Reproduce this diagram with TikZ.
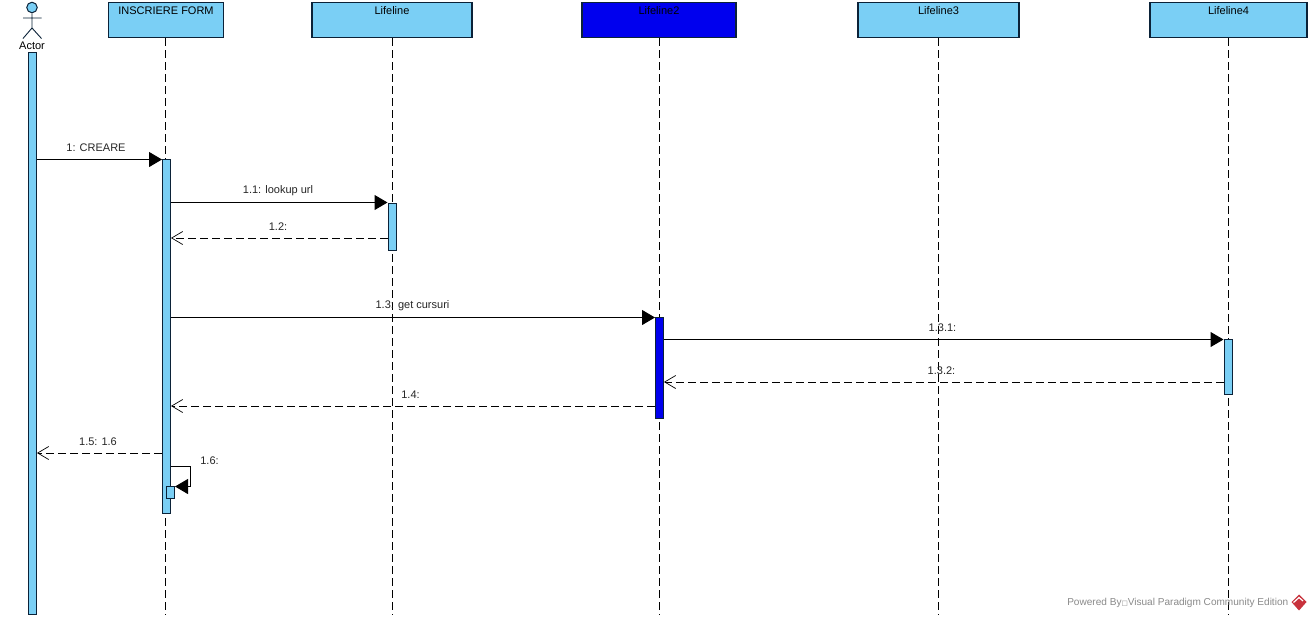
\documentclass[tikz,border=0pt]{standalone}
\usepackage{fontspec}
\setmainfont{Liberation Sans}
\newfontfamily\symfont{DejaVu Sans}
\usetikzlibrary{arrows.meta,calc}
\def\px{0.75pt}
\definecolor{lifefill}{HTML}{7ACFF5}
\definecolor{lifeblue}{HTML}{0000EE}
\definecolor{edge}{HTML}{0B2238}
\definecolor{wmgray}{HTML}{8A8A8A}
\definecolor{logored}{HTML}{C8323C}
\tikzset{
  x=\px,y=-\px,
  every node/.style={font=\fontsize{8.25}{10}\selectfont,inner sep=0pt},
  headbox/.style={draw=edge,line width=1.2*\px,fill=lifefill,inner xsep=0pt,inner ysep=0pt,
    text height=11.5*\px,text depth=23.5*\px},
  bar/.style={draw=edge,line width=1*\px,fill=lifefill,minimum width=8*\px},
  lifedash/.style={draw=black,line width=0.9*\px,dash pattern=on 8*\px off 4*\px},
  syncmsg/.style={draw=black,line width=1*\px,-{Triangle[length=13*\px,width=15*\px,fill=black]}},
  retmsg/.style={draw=black,line width=0.9*\px,dash pattern=on 8*\px off 4*\px,
    -{Straight Barb[length=11*\px,width=13*\px,line width=.7*\px,sep=0pt]}},
  msglabel/.style={text=black!85},
}
\begin{document}
\begin{tikzpicture}
\useasboundingbox (0,0) rectangle (1311,619);
\fill[white] (0,0) rectangle (1311,619);

% lifeline heads
\node[headbox,minimum width=115*\px] (h1) at (166,20) {INSCRIERE FORM};
\node[headbox,minimum width=160*\px] (h2) at (392,20) {Lifeline};
\node[headbox,minimum width=154*\px,fill=lifeblue] (h3) at (659,20) {Lifeline2};
\node[headbox,minimum width=161*\px] (h4) at (938.5,20) {Lifeline3};
\node[headbox,minimum width=157*\px] (h5) at (1228.5,20) {Lifeline4};

% lifeline ends
\coordinate (e1) at (165,615);
\coordinate (e2) at (392,615);
\coordinate (e3) at (659,615);
\coordinate (e4) at (938,615);
\coordinate (e5) at (1228,615);
\draw[lifedash] (h1.south -| e1) -- (e1);
\draw[lifedash] (h2.south -| e2) -- (e2);
\draw[lifedash] (h3.south -| e3) -- (e3);
\draw[lifedash] (h4.south -| e4) -- (e4);
\draw[lifedash] (h5.south -| e5) -- (e5);

% actor
\node[draw=edge,line width=1*\px,fill=lifefill,circle,minimum size=10.5*\px] (head) at (32,7.5) {};
\coordinate (hip) at (32,28);
\coordinate (armL) at (23,18);
\coordinate (armR) at (41.5,18);
\coordinate (legL) at (23,38.5);
\coordinate (legR) at (41.5,38.5);
\draw[edge,line width=.9*\px] (head.south) -- (hip) (armL) -- (armR) (legL) -- (hip) -- (legR);
\node (actor) at (32,46) {Actor};

% activation bars
\node[bar,minimum height=562*\px] (a0) at (32.5,333.5) {};
\node[bar,minimum height=354*\px] (a1) at (166.5,336.5) {};
\node[bar,minimum height=47*\px] (a2) at (392,226.5) {};
\node[bar,minimum height=101*\px,fill=lifeblue] (a3) at (659.5,367.5) {};
\node[bar,minimum height=55*\px] (a4) at (1228,367) {};
\node[bar,minimum height=12*\px] (a5) at (170.5,492) {};

% message levels
\coordinate (m1) at (0,159.5);
\coordinate (m2) at (0,202.5);
\coordinate (m3) at (0,238);
\coordinate (m4) at (0,317.5);
\coordinate (m5) at (0,339.5);
\coordinate (m6) at (0,382);
\coordinate (m7) at (0,406);
\coordinate (m8) at (0,453);

\draw[syncmsg] (a0.east |- m1) -- (a1.west |- m1);
\draw[syncmsg] (a1.east |- m2) -- (a2.west |- m2);
\draw[retmsg]  (a2.west |- m3) -- (a1.east |- m3);
\draw[syncmsg] (a1.east |- m4) -- (a3.west |- m4);
\draw[syncmsg] (a3.east |- m5) -- (a4.west |- m5);
\draw[retmsg]  (a4.west |- m6) -- (a3.east |- m6);
\draw[retmsg]  (a3.west |- m7) -- (a1.east |- m7);
\draw[retmsg]  (a1.west |- m8) -- (a0.east |- m8);

% self message
\coordinate (s1) at (190,466.5);
\coordinate (s2) at (190,486.5);
\draw[syncmsg] (a1.east |- s1) -- (s1) -- (s2) -- (a5.east |- s2);

% labels
\node[msglabel] (l1) at (96,148) {1: CREARE};
\node[msglabel] (l2) at (278,191) {1.1: lookup url};
\node[msglabel] (l3) at (278,227) {1.2:};
\node[msglabel] (l4) at (412.5,306) {1.3: get cursuri};
\node[msglabel] (l5) at (942.5,328) {1.3.1:};
\node[msglabel] (l6) at (941.5,371) {1.3.2:};
\node[msglabel] (l7) at (410.5,395) {1.4:};
\node[msglabel] (l8) at (98,442) {1.5: 1.6};
\node[msglabel] (l9) at (209.5,461) {1.6:};

% watermark
\node[anchor=west,text=wmgray,font=\fontsize{7.55}{9}\selectfont] (wm) at (1067,603) {Powered By{\symfont\fontsize{5}{6}\selectfont □}Visual Paradigm Community Edition};
\fill[logored] (1299,594.5) -- (1306.5,602) -- (1299,610.5) -- (1291.5,602) -- cycle;
\draw[white,line width=1.2*\px] (1293.5,602.5) -- (1299,597.5) -- (1303,601);
\end{tikzpicture}
\end{document}
